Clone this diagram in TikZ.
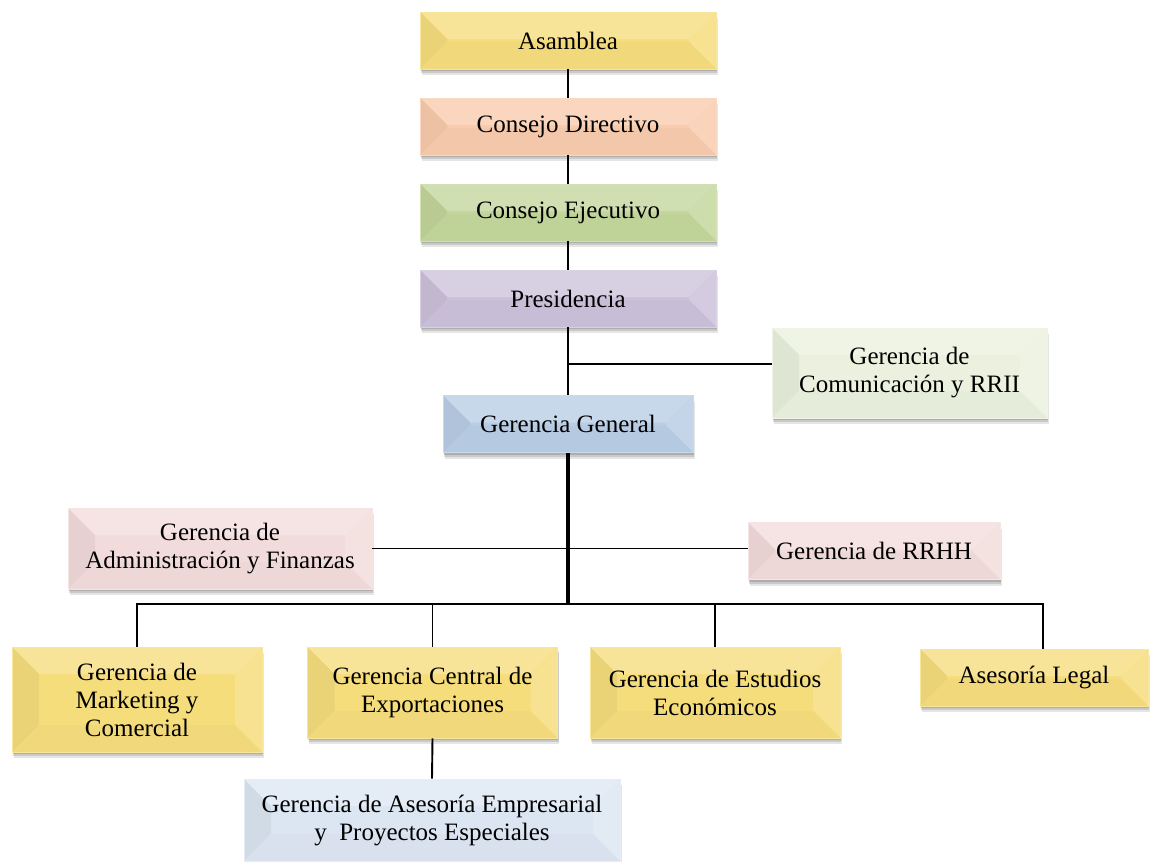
\documentclass[tikz,border=0pt]{standalone}
\usepackage{fontspec}
\setmainfont{Liberation Serif}
\usetikzlibrary{shadows}

% face colours of the bevelled boxes
\definecolor{cyellow}{HTML}{F6DD7C}
\definecolor{cpeach}{HTML}{F8CBAD}
\definecolor{cgreen}{HTML}{C3D69B}
\definecolor{cpurple}{HTML}{CCC1DA}
\definecolor{cblue}{HTML}{B9CDE5}
\definecolor{cpalegreen}{HTML}{EBF1DE}
\definecolor{cpink}{HTML}{F2DCDB}
\definecolor{cpaleblue}{HTML}{DCE6F2}

\newcommand{\bvi}{27pt}

\tikzset{
  softshadow/.style={
    general shadow={fill=black, opacity=.10, shadow xshift=1.5pt, shadow yshift=-6pt},
    general shadow={fill=black, opacity=.12, shadow xshift=1pt, shadow yshift=-4pt},
    general shadow={fill=black, opacity=.14, shadow xshift=.5pt, shadow yshift=-2pt}},
  bevel/.style={
    softshadow, fill=#1, draw=#1!75!white, line width=.6pt,
    inner sep=4pt, align=center, text=black,
    font=\fontsize{25}{28}\selectfont,
    path picture={
      % top panel
      \fill[#1!78!white]
        (path picture bounding box.north west) -- (path picture bounding box.north east)
        -- ([xshift=-\bvi,yshift=-\bvi]path picture bounding box.north east)
        -- ([xshift=\bvi,yshift=-\bvi]path picture bounding box.north west) -- cycle;
      % left panel
      \fill[#1!95!black]
        (path picture bounding box.north west) -- (path picture bounding box.south west)
        -- ([xshift=\bvi,yshift=\bvi]path picture bounding box.south west)
        -- ([xshift=\bvi,yshift=-\bvi]path picture bounding box.north west) -- cycle;
      % right panel
      \fill[#1!84!white]
        (path picture bounding box.north east) -- (path picture bounding box.south east)
        -- ([xshift=-\bvi,yshift=\bvi]path picture bounding box.south east)
        -- ([xshift=-\bvi,yshift=-\bvi]path picture bounding box.north east) -- cycle;
      % bottom panel
      \fill[#1!98!black]
        (path picture bounding box.south west) -- (path picture bounding box.south east)
        -- ([xshift=-\bvi,yshift=\bvi]path picture bounding box.south east)
        -- ([xshift=\bvi,yshift=\bvi]path picture bounding box.south west) -- cycle;
    }},
  link/.style={line width=1.9pt, black},
  trunk/.style={line width=3.6pt, black}
}

\begin{document}
\begin{tikzpicture}[x=1pt,y=-1pt]
\useasboundingbox (0,0) rectangle (1160,862);

% upper chain
\node[bevel=cyellow, minimum width=296pt, minimum height=57pt] (asam) at (568,40.5) {Asamblea};
\node[bevel=cpeach, minimum width=296pt, minimum height=57pt] (cdir) at (568,126.5) {Consejo Directivo};
\node[bevel=cgreen, minimum width=296pt, minimum height=57pt] (cejec) at (568,212.5) {Consejo Ejecutivo};
\node[bevel=cpurple, minimum width=296pt, minimum height=57pt] (pres) at (568,298.5) {Presidencia};
\node[bevel=cpalegreen, minimum width=275pt, minimum height=90pt] (gcom) at (909.5,373) {Gerencia de\\Comunicación y RRII};
\node[bevel=cblue, minimum width=250pt, minimum height=57pt] (ggen) at (568,424) {Gerencia General};

% staff level
\node[bevel=cpink, minimum width=304pt, minimum height=81pt] (gadm) at (220,548.5) {Gerencia de\\Administración y Finanzas};
\node[bevel=cpink, minimum width=252pt, minimum height=57pt] (grrhh) at (874,551) {Gerencia de RRHH};

% line level
\node[bevel=cyellow, minimum width=250pt, minimum height=105pt] (gmkt) at (137,699.5) {Gerencia de\\Marketing y\\Comercial};
\node[bevel=cyellow, minimum width=250pt, minimum height=91pt] (gexp) at (432.5,692.5) {Gerencia Central de\\Exportaciones};
\node[bevel=cyellow, minimum width=250pt, minimum height=91pt] (gest) at (715,692.5) {Gerencia de Estudios\\Económicos};
\node[bevel=cyellow, minimum width=228pt, minimum height=57pt] (gleg) at (1034,677.5) {Asesoría Legal};
\node[bevel=cpaleblue, minimum width=376pt, minimum height=82pt] (gase) at (432,820) {Gerencia de Asesoría Empresarial\\y~ Proyectos Especiales};

% junction points
\coordinate (jcom) at (568,364);
\coordinate (bus) at (568,604);
\coordinate (legdrop) at (1043,604);

% connectors
\draw[link] (asam.south) -- (cdir.north);
\draw[link] (cdir.south) -- (cejec.north);
\draw[link] (cejec.south) -- (pres.north);
\draw[link] (pres.south) -- (ggen.north);
\draw[link] (jcom) -- (jcom -| gcom.west);
\draw[link] (gadm.east) -- (gadm.east -| grrhh.west);
\draw[link] (gmkt.north) -- (gmkt.north |- bus) -- (bus);
\draw[line width=2.6pt] (bus) -- (gest.north |- bus);
\draw[link] (gest.north |- bus) -- (legdrop) -- (legdrop |- gleg.north);
\draw[link] (gexp.north |- bus) -- (gexp.north);
\draw[link] (gest.north |- bus) -- (gest.north);
\draw[link] (gexp.south) -- (gase.north);
\draw[trunk] (ggen.south) -- (bus);
\end{tikzpicture}
\end{document}
